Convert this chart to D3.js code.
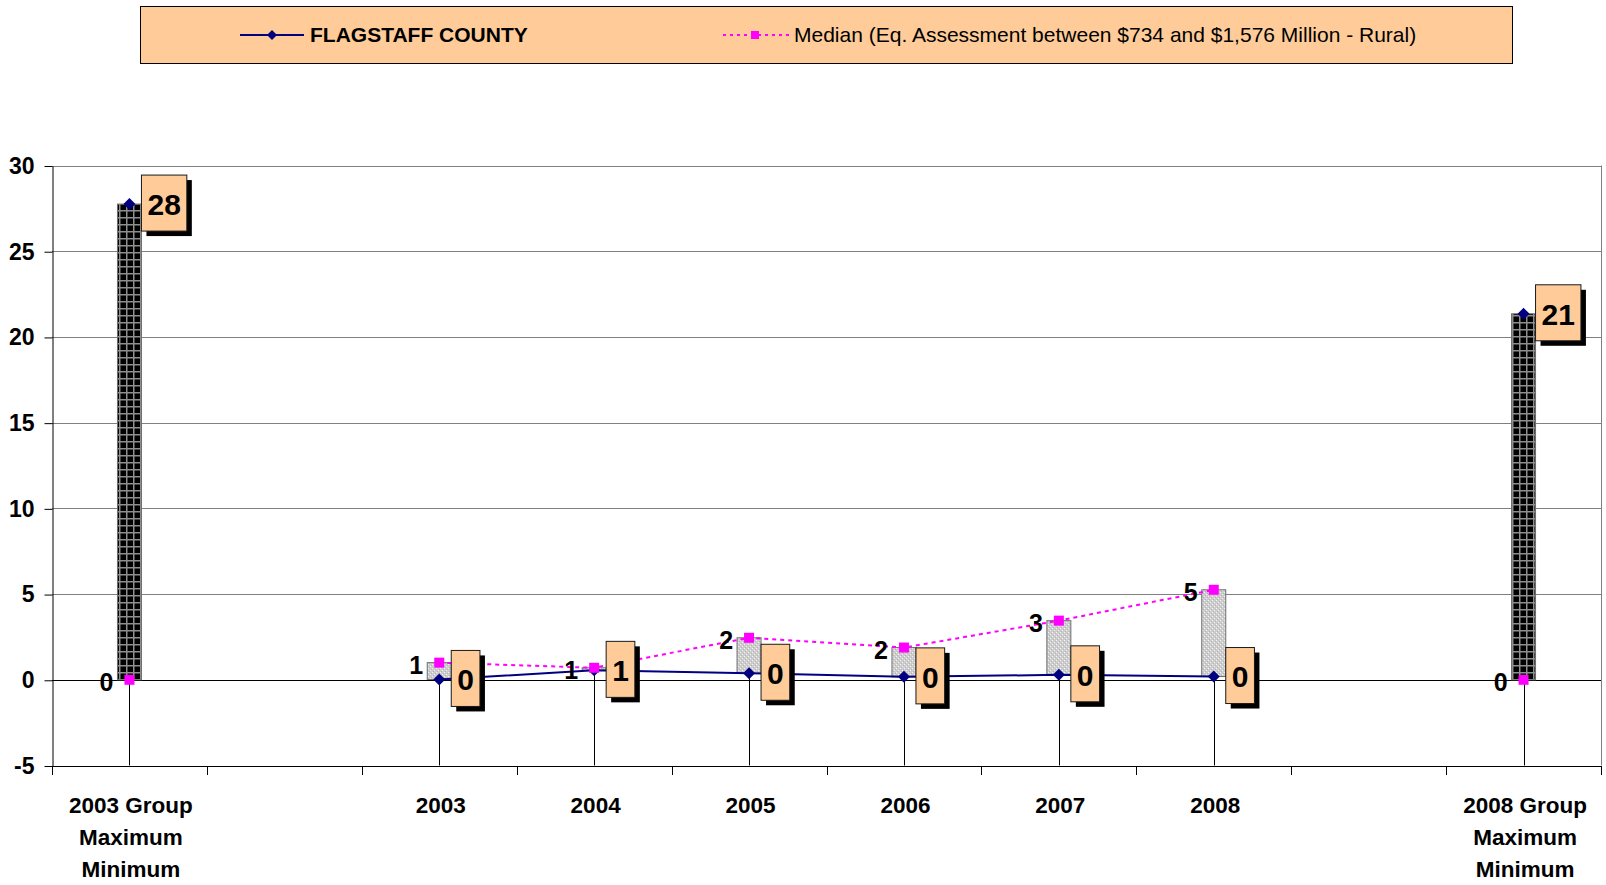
<!DOCTYPE html>
<meta charset="utf-8">
<style>
body { margin: 0; background: #fff; }
svg { font-family: "Liberation Sans", Arial, sans-serif; }
.grid line { stroke: #808080; stroke-width: 1px; }
.ylab { font-size: 23px; font-weight: bold; }
.xlab { font-size: 22.5px; font-weight: bold; }
.medlab { font-size: 25px; font-weight: bold; }
.boxlab { font-size: 30px; font-weight: bold; }
.legend text { font-size: 21px; }
</style>
<svg width="1606" height="885"></svg>
<script src="https://d3js.org/d3.v7.min.js"></script>
<script>

// DATA
var categories = ["2003 Group|Maximum|Minimum", "", "2003", "2004", "2005", "2006", "2007", "2008", "", "2008 Group|Maximum|Minimum"];
var flagstaff = [27.75, null, 0.02, 0.55, 0.38, 0.17, 0.29, 0.19, null, 21.35];
var median = [0, null, 1.0, 0.7, 2.45, 1.88, 3.45, 5.25, null, 0];
var yTicks = [-5, 0, 5, 10, 15, 20, 25, 30];
var seriesNames = ["FLAGSTAFF COUNTY", "Median (Eq. Assessment between $734 and $1,576 Million - Rural)"];

var svg = d3.select("svg");
var plot = {left: 52, right: 1601, top: 165.5, bottom: 765.5};

var x = d3.scaleBand()
    .domain(d3.range(categories.length))
    .range([plot.left, plot.right])
    .padding(0);
var y = d3.scaleLinear()
    .domain([-5, 30])
    .range([plot.bottom, plot.top]);
var cx = function(i) { return x(i) + x.bandwidth() / 2; };

function diamond(r) {
  return "M0," + (-r) + "L" + r + ",0L0," + r + "L" + (-r) + ",0Z";
}

var defs = svg.append("defs");
// dark checkered (down bar)
var pd = defs.append("pattern").attr("id", "down").attr("patternUnits", "userSpaceOnUse")
    .attr("width", 7).attr("height", 7);
pd.append("rect").attr("width", 7).attr("height", 7).attr("fill", "#8f8f8f");
pd.append("rect").attr("x", 1.5).attr("y", 1.5).attr("width", 5.5).attr("height", 5.5).attr("fill", "#000");
// light dotted (up bar)
var pu = defs.append("pattern").attr("id", "up").attr("patternUnits", "userSpaceOnUse")
    .attr("width", 4).attr("height", 4);
pu.append("rect").attr("width", 4).attr("height", 4).attr("fill", "#cdcdcd");
pu.append("rect").attr("x", 0).attr("y", 0).attr("width", 1).attr("height", 1).attr("fill", "#f2f2f2");
pu.append("rect").attr("x", 2).attr("y", 2).attr("width", 1).attr("height", 1).attr("fill", "#f2f2f2");
pu.append("rect").attr("x", 1).attr("y", 3).attr("width", 1).attr("height", 1).attr("fill", "#b5b5b5");
pu.append("rect").attr("x", 3).attr("y", 1).attr("width", 1).attr("height", 1).attr("fill", "#b5b5b5");

// legend
var legend = svg.append("g").attr("class", "legend");
legend.append("rect")
    .attr("x", 140.5).attr("y", 6.5).attr("width", 1372).attr("height", 57)
    .attr("fill", "#FFCC99").attr("stroke", "#000");
legend.append("line").attr("x1", 240).attr("x2", 304).attr("y1", 35).attr("y2", 35)
    .attr("stroke", "#000080").attr("stroke-width", 2);
legend.append("path").attr("d", diamond(5))
    .attr("transform", "translate(272,35)").attr("fill", "#000080");
legend.append("text").attr("x", 310).attr("y", 35).attr("dy", "0.35em")
    .style("font-weight", "bold").text(seriesNames[0]);
legend.append("line").attr("x1", 723).attr("x2", 789).attr("y1", 35).attr("y2", 35)
    .attr("stroke", "#FF00FF").attr("stroke-width", 2).attr("stroke-dasharray", "3,4");
legend.append("rect").attr("x", 751).attr("y", 31).attr("width", 8).attr("height", 8).attr("fill", "#FF00FF");
legend.append("text").attr("x", 794).attr("y", 35).attr("dy", "0.35em").text(seriesNames[1]);

// gridlines
svg.append("g").attr("class", "grid")
  .selectAll("line")
  .data(yTicks.filter(function(d) { return d > -5; }))
  .join("line")
    .attr("x1", plot.left).attr("x2", plot.right)
    .attr("y1", function(d) { return Math.round(y(d)) + 0.5; })
    .attr("y2", function(d) { return Math.round(y(d)) + 0.5; })
    .style("stroke", function(d) { return d === 0 ? "#000" : "#808080"; });

// plot border (right side)
svg.append("line").attr("x1", plot.right + 0.5).attr("x2", plot.right + 0.5)
    .attr("y1", plot.top).attr("y2", plot.bottom).attr("stroke", "#808080");

// y axis
var yAxis = svg.append("g")
    .attr("transform", "translate(" + (plot.left + 0.5) + ",0.5)")
    .call(d3.axisLeft(y).tickValues(yTicks).tickFormat(function(d) { return String(d); })
      .tickSize(8).tickPadding(10).tickSizeOuter(0));
yAxis.select(".domain").attr("stroke", "#000");
yAxis.selectAll("text").attr("class", "ylab").attr("fill", "#000");
yAxis.attr("font-family", null).attr("font-size", null);

// x axis at -5
var bounds = d3.range(categories.length + 1).map(function(i) { return plot.left + i * x.bandwidth(); });
svg.append("line").attr("x1", plot.left).attr("x2", plot.right + 1)
    .attr("y1", Math.round(y(-5)) + 0.5).attr("y2", Math.round(y(-5)) + 0.5).attr("stroke", "#000");
svg.append("g").selectAll("line").data(bounds).join("line")
    .attr("x1", function(d) { return Math.round(d) + 0.5; })
    .attr("x2", function(d) { return Math.round(d) + 0.5; })
    .attr("y1", Math.round(y(-5))).attr("y2", Math.round(y(-5)) + 9)
    .attr("stroke", "#000");

var xl = svg.append("g").selectAll("text").data(categories).join("text")
    .attr("class", "xlab")
    .attr("text-anchor", "middle")
    .attr("x", function(d, i) { return cx(i) + 1.5; })
    .attr("y", 813);
xl.selectAll("tspan").data(function(d) { return d ? d.split("|") : []; }).join("tspan")
    .attr("x", function() { return d3.select(this.parentNode).attr("x"); })
    .attr("dy", function(d, i) { return i === 0 ? 0 : 32; })
    .text(function(d) { return d; });

var idx = d3.range(categories.length).filter(function(i) { return flagstaff[i] !== null; });

// drop lines
svg.append("g").selectAll("line").data(idx).join("line")
    .attr("x1", function(i) { return Math.round(cx(i)) + 0.5; })
    .attr("x2", function(i) { return Math.round(cx(i)) + 0.5; })
    .attr("y1", function(i) { return y(Math.max(flagstaff[i], median[i])); })
    .attr("y2", y(-5))
    .attr("stroke", "#000");

// up-down bars
var barW = 24;
svg.append("g").selectAll("rect").data(idx).join("rect")
    .attr("x", function(i) { return cx(i) - barW / 2; })
    .attr("width", barW)
    .attr("y", function(i) { return y(Math.max(flagstaff[i], median[i])); })
    .attr("height", function(i) { return Math.abs(y(flagstaff[i]) - y(median[i])); })
    .attr("fill", function(i) { return flagstaff[i] > median[i] ? "url(#down)" : "url(#up)"; })
    .attr("stroke", "#6e6e6e").attr("stroke-width", 1);

// lines
var line = function(vals) {
  return d3.line()
    .defined(function(d, i) { return vals[i] !== null; })
    .x(function(d, i) { return cx(i); })
    .y(function(d) { return y(d); })(vals);
};
svg.append("path").attr("d", line(median)).attr("fill", "none")
    .attr("stroke", "#FF00FF").attr("stroke-width", 2).attr("stroke-dasharray", "4,4");
svg.append("path").attr("d", line(flagstaff)).attr("fill", "none")
    .attr("stroke", "#000080").attr("stroke-width", 2);

// markers
svg.append("g").selectAll("path").data(idx).join("path")
    .attr("d", diamond(6))
    .attr("transform", function(i) { return "translate(" + cx(i) + "," + y(flagstaff[i]) + ")"; })
    .attr("fill", "#000080");
svg.append("g").selectAll("rect").data(idx).join("rect")
    .attr("x", function(i) { return cx(i) - 5; })
    .attr("y", function(i) { return y(median[i]) - 5; })
    .attr("width", 10).attr("height", 10)
    .attr("fill", "#FF00FF");

// median labels
svg.append("g").selectAll("text").data(idx).join("text")
    .attr("class", "medlab")
    .attr("text-anchor", "end")
    .attr("x", function(i) { return cx(i) - 16; })
    .attr("y", function(i) { return y(median[i]) + 2; })
    .attr("dy", "0.36em")
    .text(function(i) { return Math.round(median[i]); });

// flagstaff label boxes
var boxes = svg.append("g").selectAll("g").data(idx).join("g")
    .attr("transform", function(i) { return "translate(" + (cx(i) + 12) + "," + y(flagstaff[i]) + ")"; });
boxes.each(function(i) {
  var g = d3.select(this);
  var shadow = g.append("rect").attr("fill", "#000");
  var box = g.append("rect").attr("fill", "#FFCC99").attr("stroke", "#1a1a1a").attr("stroke-width", 1);
  var t = g.append("text").attr("class", "boxlab").attr("dy", "0.36em")
      .text(Math.round(flagstaff[i]));
  var w = t.node().getComputedTextLength() + 12;
  var h = 56;
  t.attr("x", 6).attr("y", 0);
  box.attr("x", 0).attr("y", -h / 2 - 1).attr("width", w).attr("height", h);
  shadow.attr("x", 5).attr("y", -h / 2 + 4).attr("width", w).attr("height", h);
});

</script>
